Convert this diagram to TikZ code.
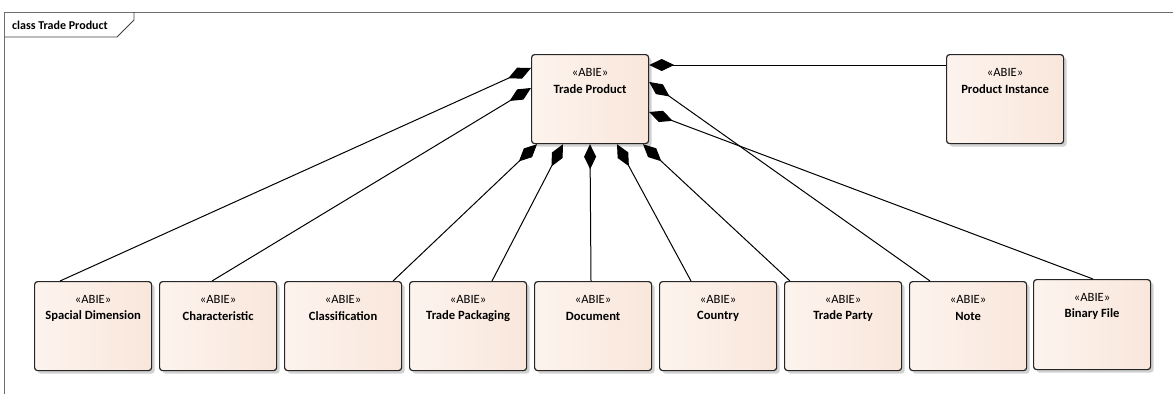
\documentclass[tikz,border=0pt]{standalone}
\usepackage{fontspec}
\setmainfont{Carlito}
\usetikzlibrary{arrows.meta,calc,shadows}
\definecolor{pchA}{HTML}{F2D6C4}
\definecolor{pchB}{HTML}{FDF5F0}
\definecolor{pchC}{HTML}{F7E0D2}
\definecolor{framec}{HTML}{6E6E6E}
\pgfdeclarehorizontalshading{boxshade}{100bp}{color(0bp)=(pchA); color(20bp)=(pchB); color(100bp)=(pchC)}
\tikzset{
  abie/.style={draw=black!85, line width=1.2pt, rounded corners=3pt, shading=boxshade,
    minimum width=117pt, minimum height=89pt, anchor=north west, inner sep=0pt,
    drop shadow={shadow xshift=3pt, shadow yshift=-3pt, fill=black!18, opacity=1}},
  stereo/.style={font=\fontsize{12.6}{14}\selectfont, inner sep=0pt, anchor=center},
  nm/.style={font=\fontsize{12.6}{14}\selectfont\bfseries, inner sep=0pt, anchor=center},
  comp/.style={line width=1pt, black, {Diamond[length=25pt,width=12pt]}-}
}
\begin{document}
\begin{tikzpicture}[x=1pt,y=-1pt]
\useasboundingbox (0,0) rectangle (1173,394);
% frame
\draw[framec, line width=1pt] (4.5,394) -- (4.5,12) -- (1173,12);
\draw[black!75, line width=0.8pt] (4.5,37) -- (117,37) -- (134,20) -- (134,12);
\node[font=\fontsize{12}{14}\selectfont\bfseries, anchor=west, inner sep=0pt] (title) at (12,25) {class Trade Product};
% boxes
\node[abie] (tp) at (531,54) {};
\node[abie] (pi) at (946,54) {};
\node[abie] (sd) at (34,281) {};
\node[abie] (ch) at (159,281) {};
\node[abie] (cl) at (284,281) {};
\node[abie] (tpk) at (409,281) {};
\node[abie] (doc) at (534,281) {};
\node[abie] (co) at (659,281) {};
\node[abie] (tpa) at (784,281) {};
\node[abie] (no) at (909,281) {};
\node[abie, minimum height=90pt] (bf) at (1033,279) {};
% texts
\foreach \n/\t in {tp/Trade Product, pi/Product Instance, sd/Spacial Dimension, ch/Characteristic, cl/Classification, tpk/Trade Packaging, doc/Document, co/Country, tpa/Trade Party, no/Note, bf/Binary File}{
  \node[stereo] (\n-s) at ($(\n.north)+(0,18)$) {«ABIE»};
  \node[nm] (\n-n) at ($(\n.north)+(0,35)$) {\t};
}
% connectors
\draw[comp] ($(tp.north west)+(0,14)$) -- ($(sd.north west)+(26,0)$);
\draw[comp] ($(tp.north west)+(0,34)$) -- ($(ch.north west)+(53,0)$);
\draw[comp] ($(tp.south west)+(6,0)$) -- ($(cl.north west)+(109,0)$);
\draw[comp] ($(tp.south west)+(32,0)$) -- ($(tpk.north west)+(83,0)$);
\draw[comp] ($(tp.south west)+(59,0)$) -- ($(doc.north west)+(57,0)$);
\draw[comp] ($(tp.south west)+(86,0)$) -- ($(co.north west)+(32,0)$);
\draw[comp] ($(tp.south west)+(112,0)$) -- ($(tpa.north west)+(6,0)$);
\draw[comp] ($(tp.north east)+(0,11)$) -- ($(pi.north west)+(0,11)$);
\draw[comp] ($(tp.north east)+(0,28)$) -- ($(no.north west)+(21,0)$);
\draw[comp] ($(tp.north east)+(0,58)$) -- ($(bf.north west)+(60,0)$);
\end{tikzpicture}
\end{document}
